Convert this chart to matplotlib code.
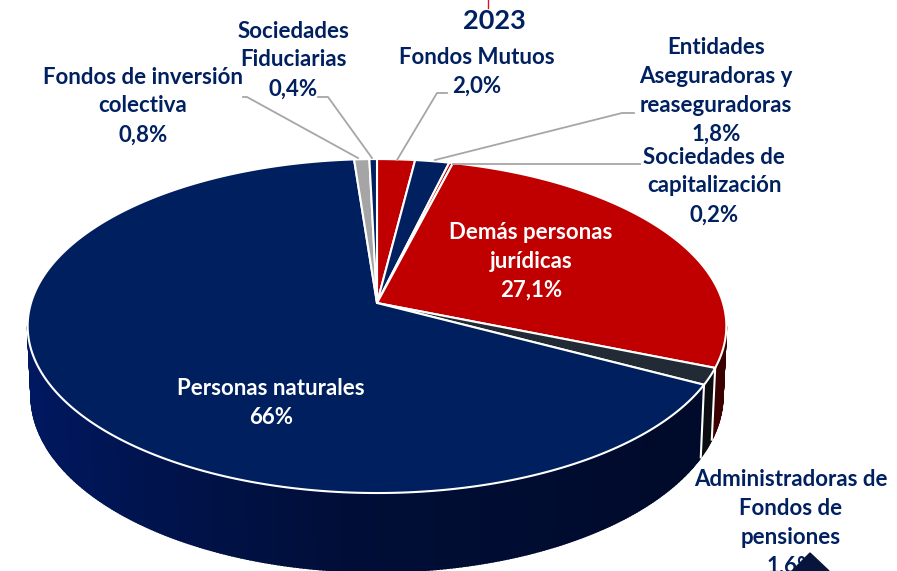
#!/usr/bin/env python3
# coding: UTF-8

import matplotlib
matplotlib.use("Agg")
import matplotlib.pyplot as plt
import numpy as np

# Data, clockwise from 12 o'clock
categories = ["Fondos Mutuos", "Entidades Aseguradoras y reaseguradoras",
              "Sociedades de capitalización", "Demás personas jurídicas",
              "Administradoras de Fondos de pensiones", "Personas naturales",
              "Fondos de inversión colectiva", "Sociedades Fiduciarias"]
values = [2.0, 1.8, 0.2, 27.1, 1.6, 66.0, 0.8, 0.4]
value_labels = ["2,0%", "1,8%", "0,2%", "27,1%", "1,6%", "66%", "0,8%", "0,4%"]
year = "2023"

top_colors = ["#C00000", "#002060", "#C00000", "#C00000", "#222B35", "#001F5F", "#A5A5A5", "#002060"]
side_colors = ["#600000", "#001030", "#600000", "#5A0000", "#101418", "#001040", "#555555", "#001030"]

NAVY = "#002060"
CX, CY, RX = 377, 303, 346
K, P = 163.8, 0.138
DEPTH = 68

plt.rcParams['font.family'] = ['Lato', 'DejaVu Sans']

fig = plt.figure(figsize=(8.97, 5.71), dpi=100)
ax = fig.add_axes([0, 0, 1, 1])
ax.set_xlim(0, 897)
ax.set_ylim(571, 0)
ax.axis("off")


# Perspective view of the pie: angle in radians, clockwise from 12 o'clock
def top_xy(t):
    u, v = np.sin(t), np.cos(t)
    s = 1 / (1 + P * v)
    return CX + RX * u * s, CY - K * v * s


def bottom_xy(t):
    u, v = np.sin(t), np.cos(t)
    s = 1 / (1 + P * v)
    return CX + 0.99 * RX * u * s, CY - K * v * s + DEPTH * s


def shade(hex_color, x):
    # side wall gets darker going from left to right
    rgb = np.array(matplotlib.colors.to_rgb(hex_color))
    f = np.interp(x, [27, 150, 350, 727], [1.5, 1.2, 0.85, 0.65])
    return np.clip(rgb * f, 0, 1)


edges = np.cumsum([0] + values) / sum(values) * 2 * np.pi

# Side wall, front half only (from the widest points of the outline)
for i in range(len(values)):
    a = max(edges[i], np.pi / 2 + P)
    b = min(edges[i + 1], 3 * np.pi / 2 - P)
    if b <= a:
        continue
    steps = np.linspace(a, b, max(2, int((b - a) * 120)))
    for t0, t1 in zip(steps[:-1], steps[1:]):
        ts = np.array([t0, t1])
        xt, yt = top_xy(ts)
        xb, yb = bottom_xy(ts[::-1])
        ax.fill(np.r_[xt, xb], np.r_[yt, yb], color=shade(side_colors[i], xt.mean()),
                lw=1.2, zorder=2)
    # white seam between wedges on the wall
    if np.pi / 2 < edges[i] < 3 * np.pi / 2:
        xt, yt = top_xy(edges[i])
        xb, yb = bottom_xy(edges[i])
        ax.plot([xt, xb], [yt, yb], color="white", lw=1.5, zorder=3)

# Top face
for i in range(len(values)):
    ts = np.linspace(edges[i], edges[i + 1], max(3, int((edges[i + 1] - edges[i]) * 120)))
    x, y = top_xy(ts)
    ax.fill(np.r_[CX, x], np.r_[CY, y], facecolor=top_colors[i], edgecolor="white",
            lw=1.5, joinstyle="round", zorder=4)

# Leader lines
grey = "#A6A6A6"
leaders = [
    ([397, 437, 447], [160, 93, 93]),
    ([435, 622, 634], [160, 113, 113]),
    ([453, 640], [164, 164]),
    ([372, 328, 318], [158, 97, 97]),
    ([358, 247, 243], [158, 97, 97]),
]
for lx, ly in leaders:
    ax.plot(lx, ly, color=grey, lw=1.3, zorder=5)

# Labels
fs = 16
def label(x, y, text, color=NAVY):
    ax.text(x, y, text, color=color, fontsize=fs, fontweight="bold", ha="center",
            va="center", linespacing=1.46, zorder=6, clip_on=False)

ax.text(494, 21, year, color=NAVY, fontsize=19.5, fontweight="bold", ha="center", va="center")
ax.plot([488, 488], [0, 8], color="#E0102A", lw=1)

label(477, 72, "Fondos Mutuos\n" + value_labels[0])
label(716, 91, "Entidades\nAseguradoras y\nreaseguradoras\n" + value_labels[1])
label(714, 186, "Sociedades de\ncapitalización\n" + value_labels[2])
label(531, 261, "Demás personas\njurídicas\n" + value_labels[3], "white")
label(791, 523, "Administradoras de\nFondos de\npensiones\n" + value_labels[4])
label(271, 403, "Personas naturales\n" + value_labels[5], "white")
label(143, 106, "Fondos de inversión\ncolectiva\n" + value_labels[6])
label(293, 60, "Sociedades\nFiduciarias\n" + value_labels[7])

# Dark corner mark cut by the bottom of the picture
ax.fill([792, 810, 829], [571, 553, 571], color="#07143C", zorder=7)

plt.savefig("out.png", dpi=100, format='png')
